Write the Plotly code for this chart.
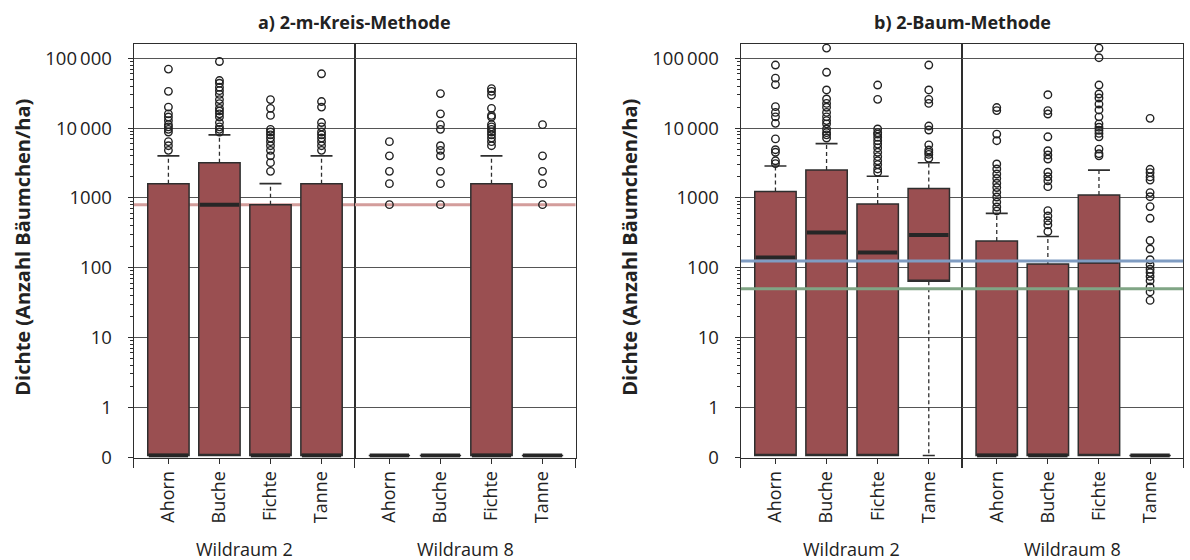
import plotly.graph_objects as go

# ---------------- data ----------------
SPECIES = ["Ahorn", "Buche", "Fichte", "Tanne"]
GROUPS = ["Wildraum 2", "Wildraum 8"]
PANEL_TITLES = ["a) 2-m-Kreis-Methode", "b) 2-Baum-Methode"]
Y_TITLE = "Dichte (Anzahl Bäumchen/ha)"
Y_TICK_VALUES = [0, 1, 10, 100, 1000, 10000, 100000]
Y_TICK_TEXT = ["0", "1", "10", "100", "1000", "10\u2009000", "100\u2009000"]

# panel a, Wildraum 2
A_W2_Q1 = [0, 0, 0, 0]
A_W2_MED = [0, 800, 0, 0]
A_W2_Q3 = [1600, 3200, 800, 1600]
A_W2_LO = [0, 0, 0, 0]
A_W2_HI = [4000, 8000, 1600, 4000]
A_W2_OUT = [
    [4800, 5600, 6400, 8800, 9600, 10400, 11200, 12800, 14400, 16000, 20000, 33600, 70000],
    [8800, 9600, 10400, 12000, 14400, 16000, 17600, 19200, 22400, 25600, 30400, 34400, 38400, 44000, 48000, 90000],
    [2400, 3200, 4000, 4800, 5600, 6400, 7200, 8000, 8800, 9600, 15200, 19200, 25600],
    [4800, 5600, 6400, 7200, 8000, 8800, 10400, 12000, 20000, 24000, 60000],
]
# panel a, Wildraum 8
A_W8_Q1 = [0, 0, 0, 0]
A_W8_MED = [0, 0, 0, 0]
A_W8_Q3 = [0, 0, 1600, 0]
A_W8_LO = [0, 0, 0, 0]
A_W8_HI = [0, 0, 4000, 0]
A_W8_OUT = [
    [800, 1600, 2400, 4000, 6400],
    [800, 1600, 2400, 4000, 4800, 5600, 9600, 11200, 16000, 31200],
    [5600, 6400, 7200, 8000, 8800, 9600, 10400, 11200, 14400, 15200, 19200, 29600, 33600, 36800],
    [800, 1600, 2400, 4000, 11200],
]
# panel b, Wildraum 2
B_W2_Q1 = [0, 0, 0, 64]
B_W2_MED = [140, 320, 165, 295]
B_W2_Q3 = [1230, 2500, 820, 1360]
B_W2_LO = [0, 0, 0, 0]
B_W2_HI = [2870, 6000, 2040, 3190]
B_W2_OUT = [
    [3100, 3400, 4500, 4900, 7000, 11700, 14500, 16800, 20300, 42000, 52000, 80000],
    [7200, 8000, 8600, 9700, 11500, 12800, 14500, 16800, 19900, 22600, 26100, 35200, 63000, 140000],
    [2330, 2600, 3000, 3400, 3900, 4500, 5200, 5900, 6600, 7400, 8200, 8600, 9700, 25800, 41400],
    [3700, 4200, 4500, 4850, 5750, 9400, 10700, 22600, 25800, 35200, 80000],
]
# panel b, Wildraum 8
B_W8_Q1 = [0, 0, 0, 0]
B_W8_MED = [0, 0, 122, 0]
B_W8_Q3 = [242, 113, 1100, 0]
B_W8_LO = [0, 0, 0, 0]
B_W8_HI = [600, 280, 2500, 0]
B_W8_OUT = [
    [650, 740, 870, 1030, 1200, 1410, 1620, 1900, 2200, 2600, 3060, 6600, 8200, 17800, 19700],
    [330, 410, 470, 550, 656, 1450, 1760, 2010, 2330, 3610, 4120, 4740, 7500, 15900, 17800, 30100],
    [4000, 4300, 5000, 7500, 8400, 9300, 10300, 11500, 14500, 18200, 22100, 27000, 30800, 41400, 102000, 140000],
    [34, 45, 53, 65, 75, 85, 95, 110, 130, 185, 245, 510, 750, 1040, 1190, 1800, 2000, 2300, 2570, 13800],
]

REF_A = [800]
REF_B = [125, 50]

# ---------------- style ----------------
BOX_FILL = "#9a4f51"
EDGE = "#2e2e2e"
REF_A_COLORS = ["#d39d9b"]
REF_B_COLORS = ["#7f9cc2", "#80a585"]
FONT = "Open Sans"
W, H = 1190, 560
ZERO_LOG = -0.69        # where value 0 is drawn on the log scale
Y_RANGE = [-0.7225, 5.205]
ZERO_TICK = 10 ** -0.722
BOX_W = 0.81
CAP_HW = 0.215
X_RANGE = [-0.68, 3.65]
Y_DOMAIN = [1 - 457.7 / H, 1 - 44 / H]
X_DOMAINS_PX = [(133.7, 354.7), (354.7, 575.7), (740.7, 962.0), (962.0, 1183.3)]


def pos(v):
    return v if v > 0 else 10 ** ZERO_LOG


fig = go.Figure()

groups = [
    (A_W2_Q1, A_W2_MED, A_W2_Q3, A_W2_LO, A_W2_HI, A_W2_OUT),
    (A_W8_Q1, A_W8_MED, A_W8_Q3, A_W8_LO, A_W8_HI, A_W8_OUT),
    (B_W2_Q1, B_W2_MED, B_W2_Q3, B_W2_LO, B_W2_HI, B_W2_OUT),
    (B_W8_Q1, B_W8_MED, B_W8_Q3, B_W8_LO, B_W8_HI, B_W8_OUT),
]

for gi, (q1, med, q3, lo, hi, outs) in enumerate(groups):
    xa = "x" if gi == 0 else f"x{gi + 1}"
    ya = "y" if gi == 0 else f"y{gi + 1}"
    xs = list(range(len(SPECIES)))
    q1p = [pos(v) for v in q1]
    q3p = [pos(v) for v in q3]
    fig.add_trace(go.Box(
        x=xs, q1=q1p, median=q1p, q3=q3p, lowerfence=q1p, upperfence=q3p,
        width=BOX_W, fillcolor=BOX_FILL, line=dict(color=EDGE, width=1.5),
        whiskerwidth=0, boxpoints=False, showlegend=False, hoverinfo="skip",
        xaxis=xa, yaxis=ya))
    # dashed whiskers
    wx, wy, cx, cy = [], [], [], []
    for i in xs:
        if hi[i] > q3[i]:
            wx += [i, i, None]; wy += [pos(q3[i]), pos(hi[i]), None]
            cx += [i - CAP_HW, i + CAP_HW, None]; cy += [pos(hi[i]), pos(hi[i]), None]
        if lo[i] < q1[i]:
            wx += [i, i, None]; wy += [pos(q1[i]), pos(lo[i]), None]
            cx += [i - CAP_HW * 0.55, i + CAP_HW * 0.55, None]; cy += [pos(lo[i]), pos(lo[i]), None]
    fig.add_trace(go.Scatter(x=wx, y=wy, mode="lines", line=dict(color=EDGE, width=1.3, dash="4px,3px"),
                             showlegend=False, hoverinfo="skip", xaxis=xa, yaxis=ya))
    fig.add_trace(go.Scatter(x=cx, y=cy, mode="lines", line=dict(color=EDGE, width=1.6),
                             showlegend=False, hoverinfo="skip", xaxis=xa, yaxis=ya))
    # medians
    mx, my = [], []
    for i in xs:
        mx += [i - BOX_W / 2 + 0.02, i + BOX_W / 2 - 0.02, None]
        my += [pos(med[i]), pos(med[i]), None]
    fig.add_trace(go.Scatter(x=mx, y=my, mode="lines", line=dict(color="#262626", width=4),
                             showlegend=False, hoverinfo="skip", xaxis=xa, yaxis=ya))
    # outliers
    ox, oy = [], []
    for i in xs:
        ox += [i] * len(outs[i]); oy += outs[i]
    fig.add_trace(go.Scatter(x=ox, y=oy, mode="markers",
                             marker=dict(symbol="circle-open", size=7.5, color="#222", line=dict(width=1.4)),
                             showlegend=False, hoverinfo="skip", xaxis=xa, yaxis=ya))

minor_vals = [m * 10 ** k for k in range(0, 5) for m in range(2, 10)]

for gi in range(4):
    sfx = "" if gi == 0 else str(gi + 1)
    d0, d1 = X_DOMAINS_PX[gi]
    fig.layout["xaxis" + sfx] = dict(
        domain=[d0 / W, d1 / W], anchor="y" + sfx, range=X_RANGE,
        tickmode="array", tickvals=list(range(len(SPECIES))), ticktext=SPECIES,
        tickangle=-90, ticks="outside", ticklen=5, tickwidth=1.3, tickcolor=EDGE,
        minor=dict(tickmode="array", tickvals=[X_RANGE[0] + 0.001, X_RANGE[1] - 0.001],
                   ticks="outside", ticklen=9, tickwidth=1.3, tickcolor=EDGE, showgrid=False),
        showline=True, linecolor=EDGE, linewidth=1.3, mirror=True,
        showgrid=False, zeroline=False, automargin=False,
        tickfont=dict(family=FONT, size=18, color="#222"), ticklabelstandoff=0)
    first = gi in (0, 2)
    fig.layout["yaxis" + sfx] = dict(
        domain=Y_DOMAIN, anchor="x" + sfx, type="log", range=Y_RANGE,
        tickmode="array", tickvals=[ZERO_TICK if v == 0 else v for v in Y_TICK_VALUES],
        ticktext=Y_TICK_TEXT, showticklabels=first,
        ticks="outside" if first else "", ticklen=5, tickwidth=1.3, tickcolor=EDGE,
        minor=dict(tickmode="array", tickvals=minor_vals, ticks="outside" if first else "",
                   ticklen=3, tickwidth=1, tickcolor=EDGE, showgrid=False),
        showline=True, linecolor=EDGE, linewidth=1.3, mirror=True,
        showgrid=True, gridcolor="#555", gridwidth=1, zeroline=False, automargin=False,
        tickfont=dict(family=FONT, size=18.5, color="#222"), ticklabelstandoff=12)

# reference lines (span each sub-panel's x range)
for gi in (0, 1):
    sfx = "" if gi == 0 else str(gi + 1)
    for v, c in zip(REF_A, REF_A_COLORS):
        fig.add_shape(type="line", xref=f"x{sfx}", yref=f"y{sfx}", x0=X_RANGE[0], x1=X_RANGE[1], y0=v, y1=v,
                      line=dict(color=c, width=3), layer="below")
for gi in (2, 3):
    sfx = str(gi + 1)
    for v, c in zip(REF_B, REF_B_COLORS):
        fig.add_shape(type="line", xref=f"x{sfx}", yref=f"y{sfx}", x0=X_RANGE[0], x1=X_RANGE[1], y0=v, y1=v,
                      line=dict(color=c, width=3), layer="above")

annotations = []
for gi in range(4):
    d0, d1 = X_DOMAINS_PX[gi]
    annotations.append(dict(text=GROUPS[gi % 2], x=(d0 + d1) / 2 / W, y=1 - 548.5 / H, xref="paper", yref="paper",
                            showarrow=False, xanchor="center", yanchor="middle",
                            font=dict(family=FONT, size=18, color="#222")))
for pi in range(2):
    d0 = X_DOMAINS_PX[2 * pi][0]
    d1 = X_DOMAINS_PX[2 * pi + 1][1]
    annotations.append(dict(text="<b>" + PANEL_TITLES[pi] + "</b>", x=(d0 + d1) / 2 / W, y=1 - 22 / H,
                            xref="paper", yref="paper", showarrow=False, xanchor="center", yanchor="middle",
                            font=dict(family=FONT, size=18, color="#222")))
    annotations.append(dict(text="<b>" + Y_TITLE + "</b>", x=(d0 - 112) / W, y=1 - 247 / H,
                            xref="paper", yref="paper", showarrow=False, textangle=-90,
                            xanchor="center", yanchor="middle",
                            font=dict(family=FONT, size=20, color="#222")))

fig.update_layout(
    width=W, height=H, margin=dict(l=0, r=0, t=0, b=0, pad=0),
    paper_bgcolor="white", plot_bgcolor="white", template="none",
    annotations=annotations, showlegend=False,
    font=dict(family=FONT, color="#222"))

fig.write_html("out.html", config={"displayModeBar": False},
               post_script="document.body.style.margin='0';document.body.style.padding='0';"
                           "document.body.style.overflow='hidden';")
